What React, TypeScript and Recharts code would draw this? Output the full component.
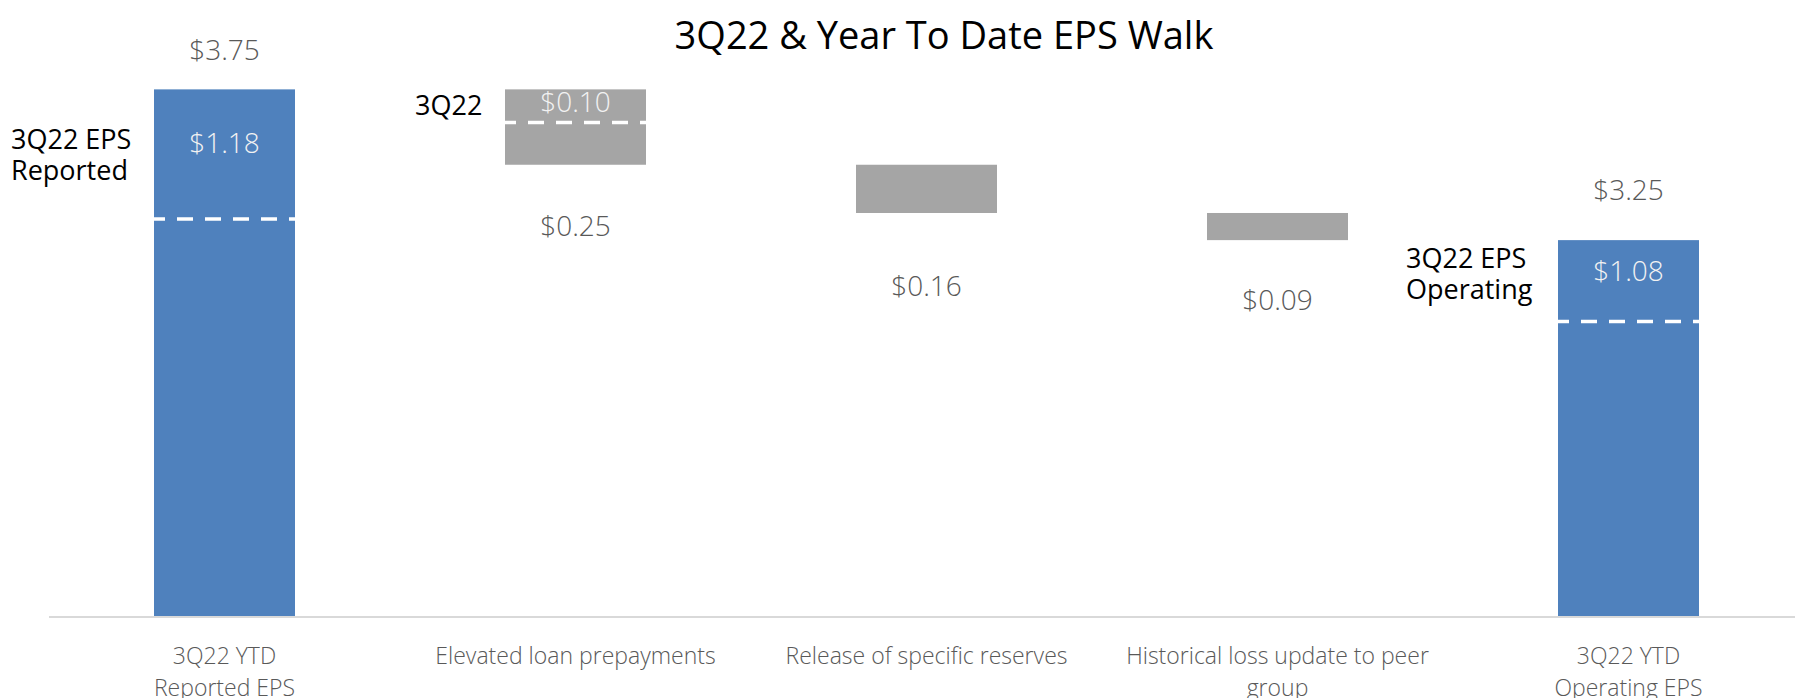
import { BarChart, Bar, XAxis, YAxis } from "recharts";

const categories = [
  "3Q22 YTD\nReported EPS",
  "Elevated loan prepayments",
  "Release of specific reserves",
  "Historical loss update to peer\ngroup",
  "3Q22 YTD\nOperating EPS",
];
// YTD totals (null = walk step)
const ytdTotals = [3.75, null, null, null, 3.25];
// walk steps between the totals
const walkSteps = [null, -0.25, -0.16, -0.09, null];
// 3Q22 part shown inside the bar
const quarterValues = [1.18, 0.1, null, null, 1.08];
// level of the white dashed divider
const dividerLevels = [3.32, 3.64, null, null, 2.98];
const sideNotes = ["3Q22 EPS\nReported", "3Q22", "", "", "3Q22 EPS\nOperating"];

const AXIS_FLOOR = 2;
const AXIS_TOP = 4;

const BLUE = "#4F81BD";
const GREY = "#A5A5A5";
const FONT = "'Segoe UI', 'Open Sans', sans-serif";

let running = 0;
const data = categories.map((name, i) => {
  const total = ytdTotals[i];
  const step = walkSteps[i];
  let range: [number, number];
  let isTotal = false;
  let amount = 0;
  if (total != null) {
    range = [AXIS_FLOOR, total];
    running = total;
    isTotal = true;
    amount = total;
  } else {
    const next = running + (step as number);
    range = [Math.min(next, running), Math.max(next, running)];
    amount = Math.abs(step as number);
    running = next;
  }
  return {
    name,
    range,
    isTotal,
    amount,
    quarter: quarterValues[i],
    divider: dividerLevels[i],
    note: sideNotes[i],
  };
});

// label placement tweaks (px from bar edges)
const outerGap = [39, 61, 73, 60, 50];
const innerGap = [54, 12.5, 0, 0, 31.5];
const noteTop = [50, 16, 0, 0, 18.5];
const noteIndent = [143, 90, 0, 0, 152];

const money = (v: number) => `$${v.toFixed(2)}`;

const WalkBar = (props: any) => {
  const { x, y, width, height, payload, index } = props;
  const [low, high] = payload.range;
  const levelToY = (v: number) => y + (height * (high - v)) / (high - low);
  const cx = x + width / 2;
  const color = payload.isTotal ? BLUE : GREY;
  const noteLines: string[] = payload.note ? payload.note.split("\n") : [];
  const noteX = x - noteIndent[index];
  return (
    <g>
      <rect x={x} y={y} width={width} height={height} fill={color} />
      {payload.divider != null && (
        <line
          x1={x}
          x2={x + width}
          y1={levelToY(payload.divider)}
          y2={levelToY(payload.divider)}
          stroke="#fff"
          strokeWidth={3.5}
          strokeDasharray="16 12"
          strokeDashoffset={5}
        />
      )}
      <text
        x={cx}
        y={payload.isTotal ? y - outerGap[index] : y + height + outerGap[index]}
        dy="0.35em"
        textAnchor="middle"
        fontFamily={FONT}
        fontWeight={300}
        fontSize={28}
        fill="#595959"
      >
        {money(payload.amount)}
      </text>
      {payload.quarter != null && (
        <text
          x={cx}
          y={y + innerGap[index]}
          dy="0.35em"
          textAnchor="middle"
          fontFamily={FONT}
          fontWeight={300}
          fontSize={28}
          fill="#F2F2F2"
        >
          {money(payload.quarter)}
        </text>
      )}
      {noteLines.length > 0 && (
        <text
          x={noteX}
          y={y + noteTop[index]}
          dy="0.35em"
          textAnchor="start"
          fontFamily={FONT}
          fontSize={27}
          fill="#000"
        >
          {noteLines.map((line, k) => (
            <tspan key={k} x={noteX} dy={k === 0 ? "0.35em" : 31}>
              {line}
            </tspan>
          ))}
        </text>
      )}
    </g>
  );
};

const CategoryTick = (props: any) => {
  const { x, y, payload } = props;
  const lines = String(payload.value).split("\n");
  return (
    <text
      x={x}
      y={y + 31}
      textAnchor="middle"
      fontFamily={FONT}
      fontWeight={300}
      fontSize={23}
      fill="#595959"
    >
      {lines.map((line, k) => (
        <tspan key={k} x={x} dy={k === 0 ? "0.35em" : 32}>
          {line}
        </tspan>
      ))}
    </text>
  );
};

export default function App() {
  return (
    <div
      style={{
        position: "absolute",
        left: 0,
        top: 0,
        width: 1795,
        height: 698,
        overflow: "hidden",
        background: "#fff",
      }}
    >
      <div
        style={{
          position: "absolute",
          left: 944,
          top: 34,
          transform: "translate(-50%, -50%)",
          whiteSpace: "nowrap",
          fontFamily: FONT,
          fontSize: 38,
          color: "#000",
        }}
      >
        3Q22 &amp; Year To Date EPS Walk
      </div>
      <BarChart
        width={1810}
        height={698}
        data={data}
        margin={{ top: 14, right: 6, bottom: 0, left: 49 }}
        barSize={141}
      >
        <XAxis
          dataKey="name"
          height={81}
          axisLine={{ stroke: "#D9D9D9", strokeWidth: 2 }}
          tickLine={false}
          tick={<CategoryTick />}
          interval={0}
        />
        <YAxis hide domain={[AXIS_FLOOR, AXIS_TOP]} allowDataOverflow />
        <Bar dataKey="range" shape={<WalkBar />} isAnimationActive={false} />
      </BarChart>
    </div>
  );
}
